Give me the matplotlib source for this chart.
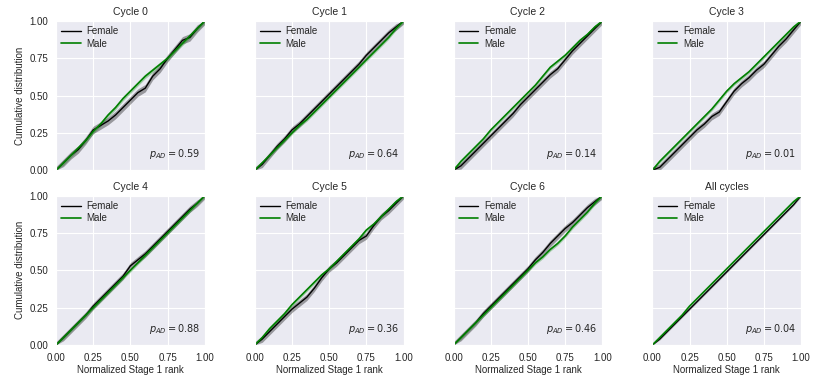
import numpy as np
import matplotlib
matplotlib.use("Agg")
import matplotlib.pyplot as plt
import seaborn as sns

sns.set_style("darkgrid")
plt.rcParams['font.family'] = ['Liberation Sans', 'DejaVu Sans']

titles = ["Cycle 0", "Cycle 1", "Cycle 2", "Cycle 3",
          "Cycle 4", "Cycle 5", "Cycle 6", "All cycles"]
p_values = ["0.59", "0.64", "0.14", "0.01", "0.88", "0.36", "0.46", "0.04"]

x = [0, .05, .1, .15, .2, .25, .3, .35, .4, .45, .5, .55, .6, .65, .7, .75, .8, .85, .9, .95, 1]

female = [
    [0, .05, .10, .14, .20, .27, .30, .33, .37, .42, .47, .52, .55, .63, .68, .75, .81, .87, .89, .95, 1],
    [0, .04, .10, .16, .21, .27, .31, .36, .41, .46, .51, .56, .61, .66, .71, .77, .82, .87, .92, .96, 1],
    [0, .03, .08, .13, .18, .23, .28, .33, .38, .44, .49, .54, .59, .64, .68, .74, .80, .85, .90, .95, 1],
    [0, .02, .07, .12, .17, .22, .27, .31, .36, .39, .46, .53, .58, .62, .67, .71, .77, .83, .88, .94, 1],
    [0, .05, .10, .15, .20, .26, .31, .36, .41, .46, .53, .57, .61, .66, .71, .76, .81, .86, .91, .95, 1],
    [0, .04, .09, .14, .19, .24, .28, .32, .38, .45, .51, .55, .60, .65, .70, .73, .80, .86, .90, .95, 1],
    [0, .05, .10, .15, .21, .26, .31, .36, .41, .46, .51, .57, .62, .68, .73, .78, .82, .87, .92, .96, 1],
    [0, .04, .09, .14, .19, .24, .29, .34, .39, .44, .49, .54, .59, .64, .69, .74, .79, .84, .89, .94, 1],
]
male = [
    [0, .05, .10, .15, .20, .26, .31, .37, .42, .48, .53, .58, .63, .67, .71, .75, .80, .85, .90, .95, 1],
    [0, .05, .10, .15, .20, .25, .30, .34, .39, .44, .49, .54, .59, .64, .69, .74, .79, .84, .89, .95, 1],
    [0, .06, .11, .16, .21, .27, .32, .37, .42, .47, .52, .57, .63, .69, .73, .77, .82, .87, .91, .96, 1],
    [0, .06, .11, .16, .21, .26, .31, .36, .41, .47, .53, .58, .62, .66, .71, .76, .81, .86, .91, .96, 1],
    [0, .05, .10, .15, .20, .25, .30, .35, .40, .45, .50, .55, .60, .65, .70, .75, .80, .85, .90, .95, 1],
    [0, .05, .11, .16, .21, .27, .32, .37, .42, .47, .51, .56, .61, .66, .71, .77, .81, .86, .91, .96, 1],
    [0, .05, .10, .15, .20, .25, .30, .35, .40, .45, .50, .55, .59, .64, .68, .73, .79, .84, .89, .95, 1],
    [0, .05, .10, .15, .20, .26, .31, .36, .41, .46, .51, .56, .61, .66, .71, .76, .81, .86, .91, .96, 1],
]
female_band = [0.025, 0.022, 0.022, 0.022, 0.022, 0.022, 0.022, 0.006]
male_band = [0.015, 0.012, 0.012, 0.012, 0.012, 0.012, 0.012, 0.004]

ticks = [0, 0.25, 0.5, 0.75, 1.0]
tick_labels = ["0.00", "0.25", "0.50", "0.75", "1.00"]

fig, axes = plt.subplots(2, 4, figsize=(8.31, 3.81), dpi=100)
fig.subplots_adjust(left=0.0674, right=0.964, top=0.945, bottom=0.0945,
                    wspace=0.336, hspace=0.17)

xa = np.array(x)
for i, ax in enumerate(axes.flat):
    f = np.array(female[i]); m = np.array(male[i])
    ax.fill_between(xa, np.clip(f - female_band[i], 0, 1), np.clip(f + female_band[i], 0, 1),
                    color='black', alpha=0.35, lw=0)
    ax.fill_between(xa, np.clip(m - male_band[i], 0, 1), np.clip(m + male_band[i], 0, 1),
                    color='green', alpha=0.3, lw=0)
    ax.plot(xa, f, color='black', lw=1.0, label='Female')
    ax.plot(xa, m, color='green', lw=1.2, label='Male')
    ax.set_xlim(0, 1); ax.set_ylim(0, 1)
    ax.set_xticks(ticks); ax.set_yticks(ticks)
    ax.set_title(titles[i], fontsize=7.5, pad=4)
    ax.text(0.97, 0.06, r"$p_{AD} = $" + p_values[i], transform=ax.transAxes,
            ha='right', va='bottom', fontsize=7, family='DejaVu Sans')
    ax.legend(loc='upper left', fontsize=7, frameon=False, handlelength=2.0,
              handletextpad=0.6, borderaxespad=0.15, labelspacing=0.25)
    ax.tick_params(labelsize=7, pad=2)
    if i % 4 == 0:
        ax.set_yticklabels(tick_labels)
        ax.set_ylabel("Cumulative distribution", fontsize=7, labelpad=3)
    else:
        ax.set_yticklabels([])
    if i >= 4:
        ax.set_xticklabels(tick_labels)
        ax.set_xlabel("Normalized Stage 1 rank", fontsize=7, labelpad=2)
    else:
        ax.set_xticklabels([])

fig.savefig("out.png", dpi=100)
